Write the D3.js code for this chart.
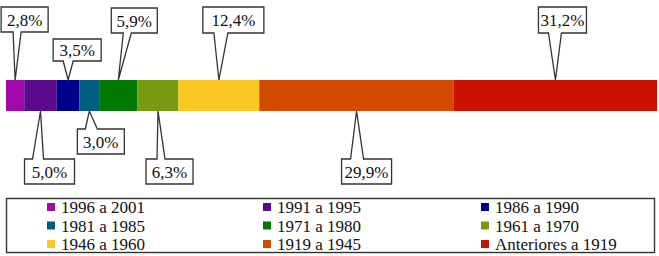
<!DOCTYPE html>
<html>
<head>
<meta charset="utf-8">
<script src="https://cdn.jsdelivr.net/npm/d3@7"></script>
<style>
  body { margin: 0; background: #fff; }
</style>
</head>
<body>
<div class="canvas"></div>
<script>
// periods of construction and their share (%)
var periods = ["1996 a 2001", "1991 a 1995", "1986 a 1990", "1981 a 1985", "1971 a 1980",
               "1961 a 1970", "1946 a 1960", "1919 a 1945", "Anteriores a 1919"];
var shares = [2.8, 5.0, 3.5, 3.0, 5.9, 6.3, 12.4, 29.9, 31.2];
var labels = ["2,8%", "5,0%", "3,5%", "3,0%", "5,9%", "6,3%", "12,4%", "29,9%", "31,2%"];
var colors = ["#a00aad", "#5a0a8c", "#00008f", "#005f7e", "#007a00", "#789a10", "#fec824", "#d24a00", "#cb1100"];

// callout placement: box top, box left / base offsets from the tip
var callouts = [
  { y: 7,   h: 25, dx: -14, w: 47, b0: -2, b1: 6 },
  { y: 159, h: 25, dx: -16, w: 50, b0: -8, b1: 3 },
  { y: 39,  h: 22, dx: -15, w: 48, b0: -5, b1: 5 },
  { y: 129, h: 25, dx: -12, w: 47, b0: -4, b1: 8 },
  { y: 8,   h: 25, dx: -7,  w: 46, b0: 5,  b1: 13 },
  { y: 159, h: 25, dx: -12, w: 47, b0: -1, b1: 7 },
  { y: 7,   h: 26, dx: -16, w: 61, b0: -5, b1: 9 },
  { y: 159, h: 25, dx: -15, w: 50, b0: -6, b1: 7 },
  { y: 7,   h: 26, dx: -17, w: 48, b0: -7, b1: 6 }
];

var width = 659, height = 256;
var barTop = 80, barBottom = 111;
var fontFamily = '"Liberation Serif"';

var svg = d3.select(".canvas").append("svg")
  .attr("width", width).attr("height", height);

var x = d3.scaleLinear().domain([0, 100]).range([6, 657]);

var data = [];
var acc = 0;
shares.forEach(function (v, i) {
  data.push({ name: periods[i], v: v, start: acc, end: acc + v, label: labels[i], color: colors[i], c: callouts[i] });
  acc += v;
});

/* bar segments */
svg.append("g").selectAll("rect")
  .data(data).enter().append("rect")
  .attr("x", d => x(d.start))
  .attr("y", barTop)
  .attr("width", d => x(d.end) - x(d.start))
  .attr("height", barBottom - barTop)
  .attr("fill", d => d.color);

/* callouts */
var co = svg.append("g").selectAll("g")
  .data(data).enter().append("g");

co.append("path")
  .attr("d", function (d) {
    var tx = x((d.start + d.end) / 2);
    var c = d.c;
    var l = tx + c.dx, r = l + c.w, t = c.y, b = c.y + c.h;
    var p = d3.path();
    if (c.y < barTop) {
      p.moveTo(l, t); p.lineTo(r, t); p.lineTo(r, b);
      p.lineTo(tx + c.b1, b); p.lineTo(tx, barTop); p.lineTo(tx + c.b0, b);
      p.lineTo(l, b); p.closePath();
    } else {
      p.moveTo(l, t); p.lineTo(tx + c.b0, t); p.lineTo(tx, barBottom); p.lineTo(tx + c.b1, t);
      p.lineTo(r, t); p.lineTo(r, b); p.lineTo(l, b); p.closePath();
    }
    return p.toString();
  })
  .attr("fill", "#fff")
  .attr("stroke", "#333")
  .attr("stroke-width", 1.3)
  .attr("stroke-linejoin", "miter");

co.append("text")
  .attr("x", d => x((d.start + d.end) / 2) + d.c.dx + d.c.w / 2)
  .attr("y", d => d.c.y + d.c.h / 2 + 6)
  .attr("text-anchor", "middle")
  .attr("fill", "#111")
  .style("font-family", fontFamily)
  .style("font-size", "17px")
  .text(d => d.label);

/* legend */
var legend = svg.append("g");
legend.append("rect")
  .attr("x", 6.5).attr("y", 198.5)
  .attr("width", 648).attr("height", 54)
  .attr("fill", "#fff")
  .attr("stroke", "#333")
  .attr("stroke-width", 1.4);

var colX = [47, 263, 481];
var rowY = [203, 221.5, 240];
var item = legend.selectAll("g.item")
  .data(data).enter().append("g")
  .attr("class", "item")
  .attr("transform", (d, i) => `translate(${colX[i % 3]}, ${rowY[Math.floor(i / 3)]})`);

item.append("rect")
  .attr("width", 8).attr("height", 8)
  .attr("fill", d => d.color);

item.append("text")
  .attr("x", 14).attr("y", 10)
  .attr("fill", "#111")
  .style("font-family", fontFamily)
  .style("font-size", "17px")
  .text(d => d.name);
</script>
</body>
</html>
